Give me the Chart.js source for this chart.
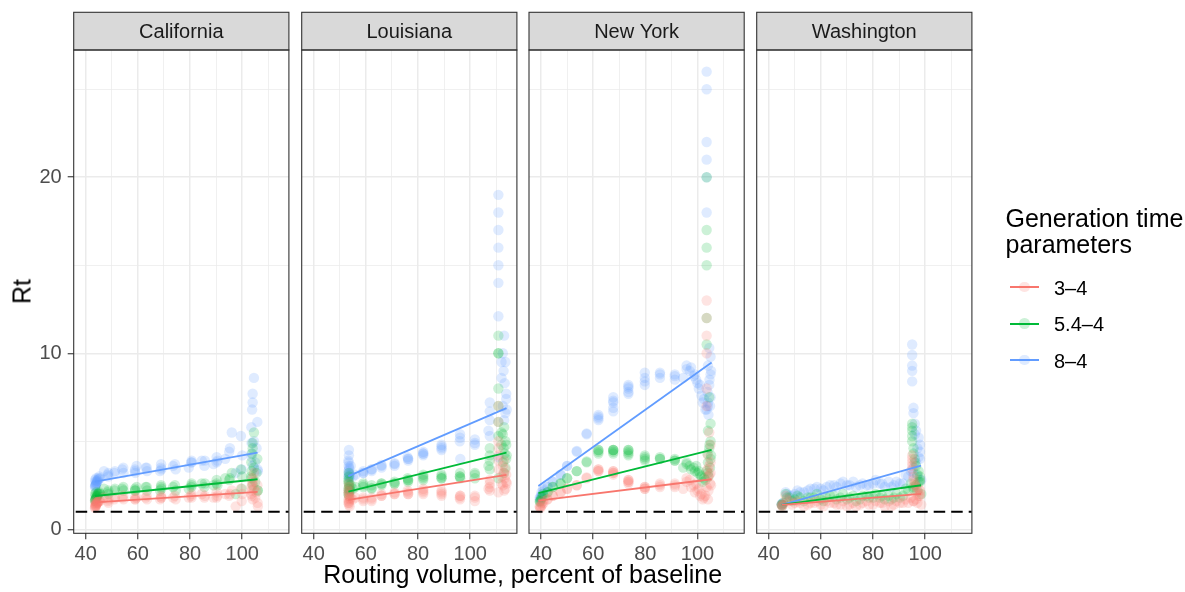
<!DOCTYPE html>
<html>
<head>
<meta charset="utf-8">
<script src="https://cdn.jsdelivr.net/npm/chart.js@4.4.1/dist/chart.umd.min.js"></script>
<style>
  html, body { margin: 0; padding: 0; background: #fff; }
  #wrap { position: relative; width: 1185px; height: 592px; overflow: hidden;
          font-family: "Liberation Sans", Arial, Helvetica, sans-serif; }
  #wrap canvas { position: absolute; left: 0; top: 0; }
  .txt { position: absolute; white-space: nowrap; color: #000; }
  .key { position: absolute; height: 2px; }
  .dot { position: absolute; border-radius: 50%; }
</style>
</head>
<body>
<div id="wrap"></div>
<script>
// ---- facet names and series ----
const states = ['California', 'Louisiana', 'New York', 'Washington'];
const seriesNames = ['3\u20134', '5.4\u20134', '8\u20134'];

// ---- axis ticks ----
const xTicks = [40, 50, 60, 70, 80, 90, 100, 110];
const xTickLabels = [40, 60, 80, 100];
const yTicks = [0, 5, 10, 15, 20, 25];
const yTickLabels = [0, 10, 20];
const refLine = 1;

// ---- California: routing volume and Rt for each generation-time setting ----
const caX   = [104.5, 104.0, 104.0, 103.8, 105.8, 103.5, 104.5, 105.5, 103.5, 105.0, 104.0, 106.0, 100.0, 99.5, 97.5, 96.0, 95.0, 93.5, 90.5, 89.0, 85.5, 84.5, 80.5, 79.5, 74.5, 73.5, 69.0, 68.5, 63.5, 63.0, 59.0, 59.5, 54.5, 54.0, 51.0, 48.5, 47.0, 45.5, 44.5, 44.0, 43.8, 43.6, 43.6, 44.0, 43.8, 44.2, 43.9, 44.6, 45.0,
               48.7, 51.2, 54.4, 58.9, 63.4, 68.9, 74.2, 80.6, 85.7, 90.2, 95.3, 99.8, 48.7, 58.9, 68.9, 80.6, 90.2, 103.6, 103.6, 105.9, 43.7, 44.3, 44.8, 45.2, 43.6];
const caR3  = [3.2, 2.9, 2.7, 2.6, 2.5, 2.4, 2.3, 2.1, 2.0, 1.8, 1.7, 1.3, 2.0, 2.3, 1.3, 2.2, 1.9, 2.0, 1.9, 1.8, 1.8, 2.0, 1.9, 1.8, 1.7, 1.8, 1.8, 1.7, 1.7, 1.8, 1.7, 1.8, 1.7, 1.8, 1.7, 1.6, 1.8, 1.6, 1.5, 1.4, 1.3, 1.2, 1.5, 1.6, 1.4, 1.45, 1.35, 1.55, 1.6,
               1.7, 1.8, 1.9, 1.8, 1.9, 1.9, 1.9, 1.8, 1.9, 2.1, 2.0, 1.6, 1.5, 1.7, 1.8, 2.0, 1.8, 2.2, 1.9, 1.5, 1.3, 1.5, 1.55, 1.65, 1.25];
const caR54 = [5.5, 4.9, 4.6, 4.3, 4.0, 3.8, 3.5, 3.2, 3.0, 2.7, 2.5, 2.2, 3.0, 3.4, 2.0, 3.2, 2.8, 2.9, 2.5, 2.5, 2.4, 2.6, 2.4, 2.3, 2.2, 2.4, 2.3, 2.2, 2.2, 2.4, 2.2, 2.4, 2.2, 2.3, 2.2, 2.1, 2.3, 2.0, 1.9, 1.8, 1.7, 1.6, 2.0, 2.1, 1.9, 1.85, 1.75, 2.0, 2.05,
               2.2, 2.3, 2.4, 2.3, 2.4, 2.5, 2.5, 2.5, 2.6, 2.8, 2.9, 2.3, 2.0, 2.2, 2.4, 2.6, 2.6, 3.3, 2.9, 2.2, 1.7, 1.9, 2.0, 2.1, 1.65];
const caR8  = [8.6, 7.7, 7.2, 6.8, 6.1, 5.8, 5.0, 4.6, 4.3, 3.8, 3.6, 3.3, 4.2, 5.3, 3.2, 5.5, 4.4, 4.0, 3.9, 3.7, 3.6, 3.9, 3.8, 3.5, 3.4, 3.6, 3.4, 3.3, 3.3, 3.5, 3.2, 3.6, 3.2, 3.4, 3.2, 3.1, 3.3, 2.9, 2.7, 2.6, 2.5, 2.4, 2.8, 2.9, 2.7, 2.65, 2.55, 2.8, 2.85,
               3.2, 3.3, 3.5, 3.4, 3.5, 3.7, 3.7, 3.8, 3.9, 4.1, 4.6, 3.4, 3.0, 3.3, 3.5, 3.9, 3.8, 4.9, 4.1, 3.4, 2.5, 2.75, 2.9, 3.0, 2.45];

// ---- Louisiana ----
const laX   = [110.8, 110.8, 110.8, 110.8, 110.8, 110.8, 110.8, 110.8, 113.0, 112.5, 113.5, 112.8, 113.2, 113.8, 112.5, 113.5, 113.0, 112.0, 107.5, 107.5, 107.0, 107.5, 101.8, 101.8, 96.1, 96.0, 96.2, 89.0, 89.0, 89.0, 82.0, 82.0, 82.0, 76.2, 76.2, 76.0, 71.0, 71.0, 66.0, 66.0, 62.2, 62.2, 59.0, 59.0, 56.0, 55.0, 53.5, 53.5, 53.3, 53.4, 53.6, 53.5, 53.3, 53.5, 53.8, 54.0,
               59.0, 62.2, 66.0, 71.0, 76.2, 82.0, 89.0, 96.1, 101.8, 107.5, 53.4, 53.6, 53.3, 53.5, 54.2, 113.8, 114.0, 112.0];
const laR3  = [7.0, 6.1, 5.0, 4.6, 4.2, 3.9, 3.4, 2.1, 3.9, 3.6, 3.4, 3.2, 2.9, 2.7, 2.5, 2.3, 2.2, 2.6, 2.6, 2.4, 2.3, 2.2, 1.9, 1.8, 1.9, 1.8, 1.9, 2.2, 1.9, 2.0, 2.2, 2.0, 2.3, 2.1, 2.0, 2.2, 2.0, 2.1, 2.0, 1.9, 1.7, 1.6, 1.7, 1.8, 1.8, 1.7, 2.6, 2.4, 2.2, 2.0, 1.8, 1.6, 1.5, 1.4, 1.3, 1.7,
               1.6, 1.8, 1.9, 2.0, 2.0, 2.1, 2.1, 1.7, 1.6, 2.8, 2.1, 1.9, 1.7, 1.5, 1.8, 3.1, 2.6, 3.0];
const laR54 = [11.0, 10.0, 10.0, 8.0, 7.0, 6.1, 5.3, 2.9, 5.8, 5.4, 5.0, 4.6, 4.3, 4.0, 3.8, 3.5, 3.2, 4.8, 4.2, 3.9, 3.6, 3.4, 3.2, 3.1, 3.2, 3.0, 2.9, 3.0, 2.9, 3.1, 3.0, 2.8, 3.1, 2.8, 2.7, 2.9, 2.7, 2.6, 2.6, 2.5, 2.35, 2.3, 2.5, 2.6, 2.4, 2.3, 3.2, 3.0, 2.8, 2.6, 2.4, 2.2, 2.0, 1.9, 2.3, 2.2,
               2.4, 2.5, 2.6, 2.6, 2.8, 2.9, 2.9, 3.0, 2.9, 4.6, 2.7, 2.5, 2.3, 2.1, 2.5, 4.8, 4.2, 5.5];
const laR8  = [19.0, 18.0, 17.0, 16.0, 15.0, 14.0, 12.1, 4.1, 11.0, 10.0, 9.5, 9.0, 8.3, 7.7, 7.0, 6.6, 6.2, 8.6, 6.7, 6.2, 5.6, 5.3, 5.1, 4.9, 5.4, 5.0, 4.0, 4.7, 4.5, 4.8, 4.3, 4.2, 4.4, 4.0, 3.9, 4.1, 3.75, 3.6, 3.65, 3.5, 3.4, 3.3, 3.3, 3.2, 3.1, 3.0, 4.5, 4.2, 3.9, 3.6, 3.4, 3.2, 3.0, 2.9, 3.1, 3.0,
               3.2, 3.4, 3.6, 3.7, 4.0, 4.3, 4.6, 5.2, 4.8, 7.2, 3.8, 3.5, 3.3, 3.1, 3.6, 7.4, 6.8, 9.5];

// ---- New York ----
const nyX   = [103.5, 103.5, 103.5, 103.5, 103.5, 103.5, 104.5, 105.0, 104.0, 105.0, 104.5, 103.8, 105.0, 104.0, 104.8, 103.5, 104.2, 103.0, 102.0, 101.5, 100.5, 99.5, 98.5, 97.0, 95.8, 94.5, 91.3, 91.3, 85.6, 85.6, 79.8, 79.8, 73.5, 73.5, 67.7, 67.7, 62.0, 62.0, 57.5, 53.7, 50.0, 47.5, 44.5, 42.5, 41.0, 40.5, 40.0, 39.8, 39.5, 40.2, 39.6, 40.8,
               62.0, 67.7, 73.5, 79.8, 85.6, 91.3, 95.8, 67.7, 73.5, 79.8, 99.0, 101.0, 102.5, 104.0, 105.2, 104.6, 97.5, 100.0,
               57.5, 53.7, 62.0, 67.7, 73.5, 50.0, 47.5, 44.5, 42.5];
const nyR3  = [13.0, 12.0, 11.0, 10.0, 8.0, 7.0, 5.5, 4.8, 4.2, 3.8, 3.6, 3.4, 3.2, 3.0, 2.6, 2.4, 2.2, 1.9, 1.7, 2.0, 2.3, 2.6, 2.5, 2.8, 2.9, 2.3, 2.6, 2.5, 2.4, 2.6, 2.3, 2.4, 2.8, 2.7, 3.3, 3.2, 3.4, 3.3, 2.9, 2.5, 2.3, 2.1, 1.9, 1.7, 1.5, 1.4, 1.3, 1.2, 1.3, 1.5, 1.25, 1.6,
               3.3, 3.2, 2.7, 2.4, 2.5, 2.4, 2.7, 3.1, 2.6, 2.3, 2.1, 1.9, 1.8, 1.7, 2.5, 3.1, 2.4, 2.2,
               2.95, 2.5, 3.4, 3.3, 2.8, 2.3, 2.1, 1.9, 1.7];
const nyR54 = [20.0, 17.0, 16.0, 15.0, 12.0, 10.5, 7.5, 6.0, 5.6, 5.0, 4.6, 4.3, 4.0, 3.8, 3.5, 3.3, 3.0, 2.8, 2.7, 3.0, 3.3, 3.6, 3.5, 3.6, 3.8, 3.5, 4.0, 3.9, 4.1, 4.0, 4.1, 4.0, 4.5, 4.3, 4.5, 4.4, 4.5, 4.3, 3.8, 3.3, 2.9, 2.6, 2.4, 2.1, 1.9, 1.8, 1.7, 1.6, 1.6, 1.8, 1.55, 2.0,
               4.4, 4.5, 4.4, 4.2, 4.0, 3.9, 3.7, 4.3, 4.2, 3.9, 3.3, 3.1, 2.9, 3.2, 4.2, 4.8, 3.4, 3.2,
               3.85, 3.3, 4.5, 4.5, 4.5, 2.9, 2.6, 2.4, 2.1];
const nyR8  = [26.0, 25.0, 22.0, 21.0, 20.0, 18.0, 10.3, 9.8, 9.3, 8.8, 8.2, 7.8, 7.5, 7.2, 7.0, 6.8, 6.5, 6.8, 7.2, 7.6, 8.0, 8.5, 8.7, 9.0, 9.3, 8.6, 8.8, 8.7, 8.9, 8.6, 8.9, 8.4, 8.2, 7.8, 7.5, 6.9, 6.5, 6.2, 5.4, 4.4, 3.6, 3.1, 2.7, 2.4, 2.2, 2.0, 1.9, 1.8, 1.8, 2.1, 1.7, 2.3,
               6.3, 7.2, 8.0, 8.6, 8.8, 8.5, 9.1, 6.7, 7.7, 8.2, 8.8, 8.2, 7.4, 7.0, 9.0, 8.5, 9.2, 8.3,
               5.45, 4.45, 6.4, 7.3, 8.1, 3.6, 3.1, 2.7, 2.4];

// ---- Washington ----
const waX   = [95.0, 95.0, 95.0, 95.0, 95.0, 95.5, 95.5, 96.0, 96.5, 97.5, 98.0, 98.0, 97.5, 96.5, 95.5, 94.5, 93.5, 98.5, 92.5, 90.3, 88.0, 86.0, 84.5, 82.6, 80.0, 77.5, 75.0, 72.4, 70.0, 67.5, 65.0, 62.2, 60.0, 57.5, 55.0, 52.0, 50.0, 48.0, 46.5, 45.5, 45.0, 45.2, 45.0, 47.0, 49.0, 51.0, 53.5, 56.0, 58.5, 61.0, 63.5, 66.0, 68.5, 71.0, 73.5, 76.0, 78.5, 81.0, 83.5, 87.0, 89.0, 91.5,
               96.0, 97.0, 98.0, 95.5, 97.0];
const waR3  = [4.2, 4.0, 3.8, 3.6, 3.4, 3.0, 2.8, 2.6, 2.4, 2.3, 2.2, 2.0, 1.9, 1.7, 1.6, 1.8, 1.5, 1.4, 1.7, 1.5, 1.4, 1.6, 1.3, 1.5, 1.4, 1.6, 1.4, 1.5, 1.3, 1.4, 1.5, 1.6, 1.4, 1.5, 1.4, 1.5, 1.5, 1.6, 1.9, 1.4, 1.35, 1.3, 1.4, 1.7, 1.4, 1.6, 1.3, 1.5, 1.6, 1.3, 1.5, 1.4, 1.6, 1.4, 1.3, 1.5, 1.4, 1.6, 1.5, 1.3, 1.6, 1.5,
               2.5, 2.1, 1.9, 1.6, 1.5];
const waR54 = [6.0, 5.8, 5.6, 5.3, 5.0, 4.6, 4.3, 4.0, 3.6, 3.3, 3.0, 2.8, 2.7, 2.5, 2.4, 2.6, 2.2, 2.0, 2.3, 1.8, 1.8, 1.9, 1.7, 1.8, 1.8, 1.9, 1.7, 1.9, 1.7, 1.8, 1.9, 1.8, 1.7, 1.8, 1.8, 1.8, 1.7, 1.8, 2.0, 1.5, 1.4, 1.35, 1.4, 1.8, 1.6, 1.9, 1.6, 1.8, 2.0, 1.6, 1.9, 1.7, 2.0, 1.8, 1.6, 1.9, 1.8, 2.0, 1.9, 1.7, 2.0, 1.9,
               3.8, 3.1, 2.7, 2.3, 2.2];
const waR8  = [10.5, 9.9, 9.3, 9.0, 8.4, 6.9, 6.6, 6.0, 5.6, 5.2, 4.8, 4.4, 4.1, 3.8, 3.5, 3.3, 3.0, 2.8, 3.1, 2.6, 2.5, 2.7, 2.4, 2.6, 2.6, 2.5, 2.5, 2.7, 2.5, 2.6, 2.5, 2.4, 2.3, 2.3, 2.2, 2.1, 2.0, 1.9, 2.1, 1.5, 1.4, 1.4, 1.45, 2.0, 1.9, 2.2, 2.1, 2.3, 2.4, 2.2, 2.5, 2.4, 2.7, 2.5, 2.4, 2.6, 2.5, 2.8, 2.6, 2.4, 2.7, 2.6,
               5.4, 4.6, 4.0, 3.2, 3.0];

// ---- linear fits: x range and fitted Rt at both ends ----
const caFitX = [43.6, 105.9];  const caFit3 = [1.53, 2.12]; const caFit54 = [1.89, 2.84]; const caFit8 = [2.70, 4.35];
const laFitX = [53.3, 113.9];  const laFit3 = [1.67, 3.09]; const laFit54 = [2.14, 4.35]; const laFit8 = [3.02, 6.88];
const nyFitX = [39.0, 105.4];  const nyFit3 = [1.63, 2.84]; const nyFit54 = [2.05, 4.51]; const nyFit8 = [2.46, 9.47];
const waFitX = [45.0, 98.4];   const waFit3 = [1.38, 2.01]; const waFit54 = [1.38, 2.50]; const waFit8 = [1.38, 3.61];

// ---- assemble facets ----
const facets = [
  { x: caX, r: [caR3, caR54, caR8], fx: caFitX, fy: [caFit3, caFit54, caFit8] },
  { x: laX, r: [laR3, laR54, laR8], fx: laFitX, fy: [laFit3, laFit54, laFit8] },
  { x: nyX, r: [nyR3, nyR54, nyR8], fx: nyFitX, fy: [nyFit3, nyFit54, nyFit8] },
  { x: waX, r: [waR3, waR54, waR8], fx: waFitX, fy: [waFit3, waFit54, waFit8] }
];

// ---- look ----
const lineColors = ['#F8766D', '#00BA38', '#619CFF'];
const dotColors = ['rgba(248,118,109,0.2)', 'rgba(0,186,56,0.2)', 'rgba(97,156,255,0.2)'];
const FONT = '"Liberation Sans", Arial, Helvetica, sans-serif';
const W = 1185, H = 592;
const PANEL_LEFT = [73.7, 301.7, 529.0, 756.7];
const PANEL_W = 215.2, PANEL_TOP = 50, PANEL_BOTTOM = 533.3, STRIP_TOP = 12.3;
const AXIS_W = 40, AXIS_H = 40;
const X_MIN = 35.4, X_MAX = 117.9, Y_MIN = -0.23, Y_MAX = 27.23;
const DOT_R = 5.2;

// strip header, panel frame and the dashed reference line
const facetFrame = {
  id: 'facetFrame',
  afterDatasetsDraw(chart) {
    const { ctx, chartArea: a, scales } = chart;
    const y = scales.y.getPixelForValue(refLine);
    ctx.save();
    ctx.beginPath();
    ctx.rect(a.left, a.top, a.right - a.left, a.bottom - a.top);
    ctx.clip();
    ctx.strokeStyle = '#000';
    ctx.lineWidth = 2;
    ctx.setLineDash([11.5, 6]);
    ctx.beginPath();
    ctx.moveTo(a.left + 2, y);
    ctx.lineTo(a.right, y);
    ctx.stroke();
    ctx.restore();
  },
  afterDraw(chart, args, opts) {
    const { ctx, chartArea: a } = chart;
    ctx.save();
    ctx.fillStyle = '#D9D9D9';
    ctx.fillRect(a.left, STRIP_TOP, a.right - a.left, a.top - STRIP_TOP);
    ctx.strokeStyle = '#333333';
    ctx.lineWidth = 1.1;
    ctx.strokeRect(a.left, STRIP_TOP, a.right - a.left, a.top - STRIP_TOP);
    ctx.strokeRect(a.left, a.top, a.right - a.left, a.bottom - a.top);
    ctx.fillStyle = '#1A1A1A';
    ctx.font = '20px ' + FONT;
    ctx.textAlign = 'center';
    ctx.textBaseline = 'alphabetic';
    ctx.fillText(opts.title, (a.left + a.right) / 2, 37.7);
    ctx.restore();
  }
};

const wrap = document.getElementById('wrap');

facets.forEach((f, i) => {
  const canvas = document.createElement('canvas');
  canvas.width = W; canvas.height = H;
  wrap.appendChild(canvas);
  const left = PANEL_LEFT[i];
  const first = i === 0;

  const pointSets = f.r.map((vals, k) => ({
    type: 'scatter',
    label: seriesNames[k],
    data: f.x.map((x, j) => ({ x: x, y: vals[j] })),
    backgroundColor: dotColors[k],
    borderWidth: 0,
    pointRadius: DOT_R,
    pointHoverRadius: DOT_R,
    order: 2
  }));
  const fitSets = f.fy.map((ends, k) => ({
    type: 'line',
    label: seriesNames[k] + ' fit',
    data: [{ x: f.fx[0], y: ends[0] }, { x: f.fx[1], y: ends[1] }],
    borderColor: lineColors[k],
    borderWidth: 1.8,
    pointRadius: 0,
    tension: 0,
    fill: false,
    order: 1
  }));

  new Chart(canvas, {
    type: 'scatter',
    data: { datasets: [...pointSets, ...fitSets] },
    options: {
      responsive: false,
      animation: false,
      devicePixelRatio: 1,
      events: [],
      layout: { padding: { left: left - AXIS_W, right: W - (left + PANEL_W), top: PANEL_TOP, bottom: H - PANEL_BOTTOM - AXIS_H } },
      plugins: { legend: { display: false }, tooltip: { enabled: false }, facetFrame: { title: states[i] } },
      scales: {
        x: {
          type: 'linear', min: X_MIN, max: X_MAX,
          afterBuildTicks: s => { s.ticks = xTicks.map(v => ({ value: v })); },
          afterFit: s => { s.height = AXIS_H; },
          border: { display: false },
          grid: {
            color: '#EBEBEB',
            lineWidth: c => (c.tick && xTickLabels.includes(c.tick.value)) ? 1.5 : 0.75,
            drawTicks: true, tickLength: 6, tickWidth: 1.1,
            tickColor: c => (c.tick && xTickLabels.includes(c.tick.value)) ? '#333333' : 'rgba(0,0,0,0)'
          },
          ticks: {
            autoSkip: false, maxRotation: 0, padding: 3,
            color: '#4D4D4D', font: { family: FONT, size: 20 },
            callback: v => xTickLabels.includes(v) ? String(v) : ''
          }
        },
        y: {
          type: 'linear', min: Y_MIN, max: Y_MAX,
          afterBuildTicks: s => { s.ticks = yTicks.map(v => ({ value: v })); },
          afterFit: s => { s.width = AXIS_W; },
          border: { display: false },
          grid: {
            color: '#EBEBEB',
            lineWidth: c => (c.tick && yTickLabels.includes(c.tick.value)) ? 1.5 : 0.75,
            drawTicks: first, tickLength: 6, tickWidth: 1.1,
            tickColor: c => (c.tick && yTickLabels.includes(c.tick.value)) ? '#333333' : 'rgba(0,0,0,0)'
          },
          ticks: {
            display: first, autoSkip: false, padding: 6,
            color: '#4D4D4D', font: { family: FONT, size: 20 },
            callback: v => yTickLabels.includes(v) ? String(v) : ''
          }
        }
      }
    },
    plugins: [facetFrame]
  });
});

// axis titles and legend
function addText(text, css) {
  const d = document.createElement('div');
  d.className = 'txt';
  d.textContent = text;
  Object.assign(d.style, css);
  wrap.appendChild(d);
  return d;
}
addText('Routing volume, percent of baseline', {
  left: '222.7px', width: '600px', textAlign: 'center', top: '562px',
  fontSize: '25px', lineHeight: '25px'
});
addText('Rt', {
  left: '2.3px', width: '40px', textAlign: 'center', top: '279.2px',
  fontSize: '25px', lineHeight: '25px', transform: 'rotate(-90deg)'
});
const ttl = addText('', {
  left: '1005.5px', top: '204.7px', fontSize: '25px', lineHeight: '26.6px'
});
ttl.innerHTML = 'Generation time<br>parameters';

const keyY = [287.3, 323.6, 360.0];
seriesNames.forEach((name, k) => {
  const line = document.createElement('div');
  line.className = 'key';
  Object.assign(line.style, { left: '1010px', width: '29px', top: (keyY[k] - 1) + 'px', background: lineColors[k] });
  wrap.appendChild(line);
  const dot = document.createElement('div');
  dot.className = 'dot';
  Object.assign(dot.style, { left: (1024.5 - DOT_R) + 'px', top: (keyY[k] - DOT_R) + 'px',
                             width: (2 * DOT_R) + 'px', height: (2 * DOT_R) + 'px', background: dotColors[k] });
  wrap.appendChild(dot);
  addText(name, { left: '1054px', top: (keyY[k] + 7.7 - 16.93) + 'px', fontSize: '20px', lineHeight: '20px' });
});
</script>
</body>
</html>
